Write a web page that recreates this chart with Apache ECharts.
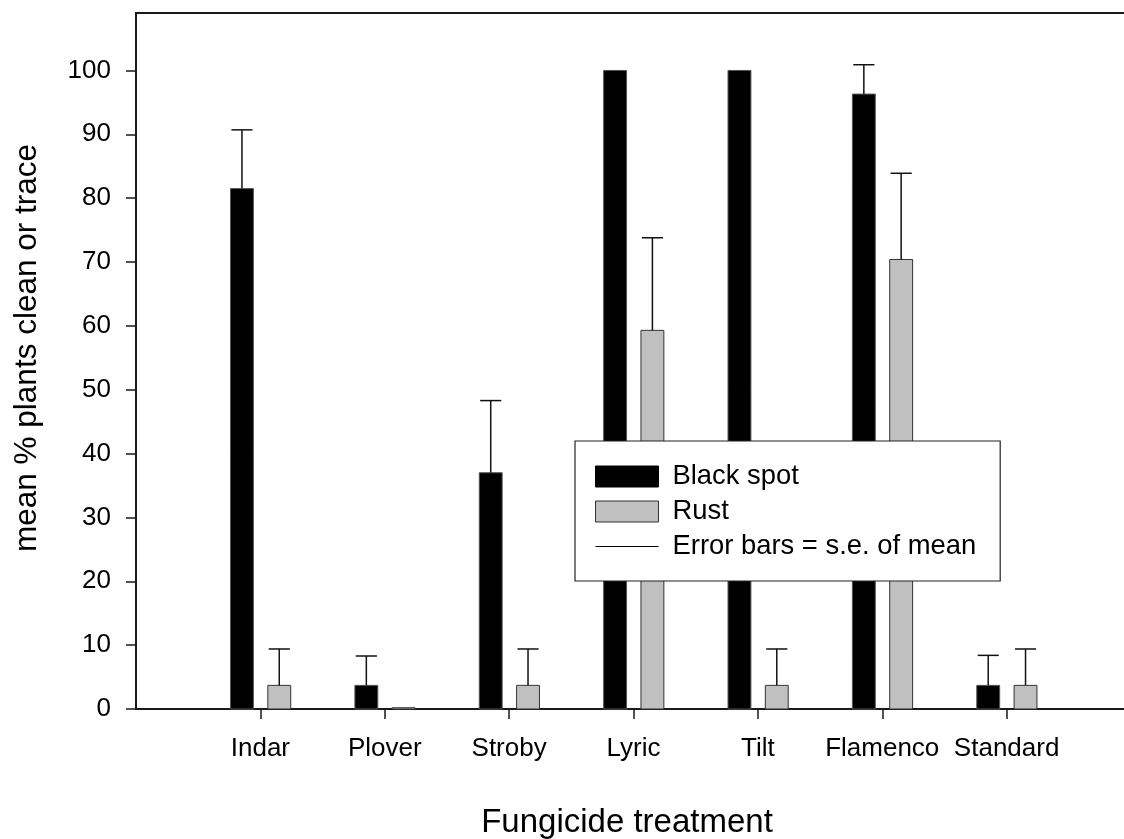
<!DOCTYPE html>
<html>
<head>
<meta charset="utf-8">
<script src="https://cdn.jsdelivr.net/npm/echarts@6/dist/echarts.min.js"></script>
<style>
html,body{margin:0;padding:0;background:#fff;}
#chart{width:1124px;height:839px;}
</style>
</head>
<body>
<div id="chart"></div>
<script>
// ---- data ----
const categories = ['Indar', 'Plover', 'Stroby', 'Lyric', 'Tilt', 'Flamenco', 'Standard'];
const blackSpot    = [81.5, 3.7, 37.0, 100, 100, 96.3, 3.7];
const blackSpotSE  = [9.2, 4.6, 11.3, 0, 0, 4.6, 4.7];
const rust         = [3.7, 0.2, 3.7, 59.3, 3.7, 70.4, 3.7];
const rustSE       = [5.7, 0, 5.7, 14.5, 5.7, 13.5, 5.7];
const yTicks = [0, 10, 20, 30, 40, 50, 60, 70, 80, 90, 100];
const xTicks = [1, 2, 3, 4, 5, 6, 7];

const FONT = '"Liberation Sans", Arial, sans-serif';

function toData(vals, se) {
  return vals.map((v, i) => [i + 1, v, v + se[i]]);
}

function makeRender(offset, fill, stroke) {
  const hw = 0.092;   // half bar width in axis units
  const hc = 0.085;   // half cap width
  return function (params, api) {
    const x = api.value(0) + offset;
    const v = api.value(1);
    const top = api.value(2);
    const p0 = api.coord([x - hw, v]);
    const p1 = api.coord([x + hw, 0]);
    const children = [{
      type: 'rect',
      shape: { x: p0[0], y: p0[1], width: p1[0] - p0[0], height: p1[1] - p0[1] },
      style: { fill: fill, stroke: stroke, lineWidth: 1 }
    }];
    if (top > v) {
      const a = api.coord([x, v]);
      const b = api.coord([x, top]);
      const c0 = api.coord([x - hc, top]);
      const c1 = api.coord([x + hc, top]);
      children.push({ type: 'line', shape: { x1: a[0], y1: a[1], x2: b[0], y2: b[1] }, style: { stroke: '#111', lineWidth: 1.5 } });
      children.push({ type: 'line', shape: { x1: c0[0], y1: c0[1], x2: c1[0], y2: c1[1] }, style: { stroke: '#111', lineWidth: 1.5 } });
    }
    return { type: 'group', children: children };
  };
}

const chart = echarts.init(document.getElementById('chart'), null, { renderer: 'canvas' });

const option = {
  animation: false,
  backgroundColor: '#fff',
  textStyle: { fontFamily: FONT, color: '#000' },
  grid: {
    left: 136, right: -7, top: 13, bottom: 130,
    show: true, borderColor: '#1a1a1a', borderWidth: 2,
    containLabel: false, outerBoundsMode: 'none'
  },
  xAxis: {
    type: 'value', min: 0, max: 8,
    splitLine: { show: false },
    axisLine: { show: true, onZero: false, lineStyle: { color: '#1a1a1a', width: 2 } },
    axisTick: { show: true, customValues: xTicks, length: 10, inside: false, lineStyle: { color: '#1a1a1a', width: 1.5 } },
    axisLabel: {
      customValues: xTicks, margin: 27, fontSize: 26, fontFamily: FONT, color: '#000',
      formatter: v => categories[Math.round(v) - 1] || ''
    }
  },
  yAxis: {
    type: 'value', min: 0, max: 109,
    splitLine: { show: false },
    axisLine: { show: true, lineStyle: { color: '#1a1a1a', width: 2 } },
    axisTick: { show: true, customValues: yTicks, length: 10, lineStyle: { color: '#1a1a1a', width: 1.5 } },
    axisLabel: { customValues: yTicks, margin: 25, fontSize: 26, fontFamily: FONT, color: '#000' }
  },
  legend: {
    orient: 'vertical',
    left: 575, top: 441,
    itemWidth: 63, itemHeight: 21, itemGap: 8,
    padding: [22, 24, 21, 20],
    borderColor: '#222', borderWidth: 1.2,
    backgroundColor: '#fff',
    textStyle: { fontSize: 27.4, fontFamily: FONT, color: '#000', padding: [0, 0, 0, 9] },
    data: [
      { name: 'Black spot', icon: 'rect', itemStyle: { color: '#000', borderColor: '#000', borderWidth: 1 } },
      { name: 'Rust', icon: 'rect', itemStyle: { color: '#c0c0c0', borderColor: '#333', borderWidth: 1 } },
      { name: 'Error bars = s.e. of mean', itemStyle: { color: 'rgba(0,0,0,0)', borderColor: 'rgba(0,0,0,0)', borderWidth: 0 },
        lineStyle: { color: '#000', width: 1 } }
    ]
  },
  graphic: [
    { type: 'text', x: 627, y: 823,
      style: { text: 'Fungicide treatment', font: '33px ' + FONT, fill: '#000', align: 'center', verticalAlign: 'middle' } },
    { type: 'text', x: 27, y: 348, rotation: Math.PI / 2,
      style: { text: 'mean % plants clean or trace', font: '31.5px ' + FONT, fill: '#000', align: 'center', verticalAlign: 'middle' } }
  ],
  series: [
    { name: 'Black spot', type: 'custom', renderItem: makeRender(-0.148, '#000', '#555'),
      itemStyle: { color: '#000' }, encode: { x: 0, y: [1, 2] }, data: toData(blackSpot, blackSpotSE), z: 2 },
    { name: 'Rust', type: 'custom', renderItem: makeRender(0.152, '#c0c0c0', '#333'),
      itemStyle: { color: '#c0c0c0' }, encode: { x: 0, y: [1, 2] }, data: toData(rust, rustSE), z: 2 },
    { name: 'Error bars = s.e. of mean', type: 'line', data: [], symbol: 'none', showSymbol: false,
      itemStyle: { color: '#000' }, lineStyle: { color: '#000', width: 1 } }
  ]
};
chart.setOption(option);
</script>
</body>
</html>
